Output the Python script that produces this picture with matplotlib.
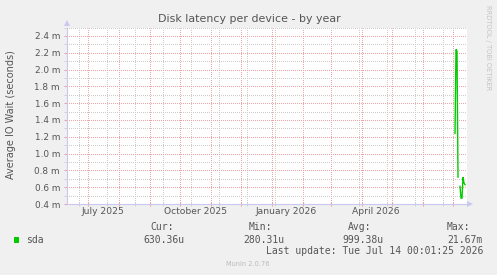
import matplotlib
matplotlib.use('Agg')
import matplotlib.pyplot as plt
import matplotlib.dates as mdates
import numpy as np
import pandas as pd
from matplotlib.patches import Polygon, Rectangle
from matplotlib.ticker import FuncFormatter, MultipleLocator, FixedLocator

# ---------------- data ----------------
dates = ['2026-07-03', '2026-07-04', '2026-07-05', '2026-07-06', '2026-07-07',
         '2026-07-08', '2026-07-09', '2026-07-10', '2026-07-11', '2026-07-12',
         '2026-07-13']
wait_s = [0.00124, 0.00224, 0.00222, 0.00072, np.nan,
          0.00061, 0.00047, 0.00047, 0.00072, 0.00065, 0.00063]

x_start = '2025-06-10'
x_end = '2026-07-15'
y_min, y_max = 0.0004, 0.0025

month_label_dates = ['2025-07-16', '2025-10-16', '2026-01-15', '2026-04-15']
month_labels = ['July 2025', 'October 2025', 'January 2026', 'April 2026']

series_name = 'sda'
stat_heads = ['Cur:', 'Min:', 'Avg:', 'Max:']
stat_vals = ['630.36u', '280.31u', '999.38u', '21.67m']
last_update = 'Last update: Tue Jul 14 00:01:25 2026'
title = 'Disk latency per device - by year'
ylabel = 'Average IO Wait (seconds)'

# ---------------- style ----------------
W, H = 497, 275
BG = '#F0F0F0'
TXT = '#555555'
AXC = '#C8C8F0'
MGRID = '#EEA4A4'
GRID = '#CDCDCD'
LINE = '#00CC00'
SANS = 'DejaVu Sans'
MONO = 'DejaVu Sans Mono'

def fx(x):
    return x / W

def fy(y):
    return 1 - y / H

fig = plt.figure(figsize=(W / 100, H / 100), dpi=100, facecolor=BG)
ax = fig.add_axes([fx(67), fy(204), (467 - 67) / W, (204 - 27.6) / H])
ax.set_facecolor('white')

x = pd.to_datetime(dates)
ax.plot(x, wait_s, color=LINE, lw=1.0, solid_joinstyle='miter', zorder=5)

ax.set_xlim(pd.Timestamp(x_start), pd.Timestamp(x_end))
ax.set_ylim(y_min, y_max)

# y ticks
ax.yaxis.set_major_locator(MultipleLocator(0.0002))
ax.yaxis.set_minor_locator(MultipleLocator(0.0001))
ax.yaxis.set_major_formatter(FuncFormatter(lambda v, p: f'{v*1000:.1f} m'))
ax.tick_params(axis='y', which='major', length=2, color=MGRID, labelsize=6.4,
               labelcolor=TXT, pad=3)
ax.tick_params(axis='y', which='minor', length=2, color=GRID)

# x ticks
ax.xaxis.set_major_locator(mdates.MonthLocator())
minor_pos = mdates.date2num(pd.date_range('2025-06-22', x_end, freq='28D'))
ax.xaxis.set_minor_locator(FixedLocator(minor_pos))
ax.xaxis.set_major_formatter(plt.NullFormatter())
ax.tick_params(axis='x', which='major', length=3, direction='inout', color=MGRID)
ax.tick_params(axis='x', which='minor', length=3, direction='inout', color=GRID)

ax.grid(which='minor', color=GRID, lw=0.72, ls=(0.5, (1, 1)), zorder=1)
ax.grid(which='major', color=MGRID, lw=0.72, ls=(0.5, (1, 1)), zorder=2)
ax.set_axisbelow(True)

for s in ['top', 'right']:
    ax.spines[s].set_visible(False)
for s in ['left', 'bottom']:
    ax.spines[s].set_color(AXC)
    ax.spines[s].set_linewidth(0.8)

for d, lab in zip(month_label_dates, month_labels):
    ax.text(pd.Timestamp(d), -0.045, lab, transform=ax.get_xaxis_transform(),
            ha='center', va='center', fontsize=6.6, color=TXT, family=SANS)

# arrows
fig.patches.append(Polygon([[fx(64), fy(26)], [fx(70), fy(26)], [fx(67), fy(20)]],
                           closed=True, transform=fig.transFigure,
                           facecolor=AXC, edgecolor='none'))
fig.patches.append(Polygon([[fx(467), fy(201)], [fx(467), fy(207)], [fx(473), fy(204)]],
                           closed=True, transform=fig.transFigure,
                           facecolor=AXC, edgecolor='none'))

# texts
fig.text(fx(249), fy(18.5), title, ha='center', va='center', fontsize=7.9,
         color=TXT, family=SANS)
fig.text(fx(11), fy(115), ylabel, ha='center', va='center', rotation=90,
         fontsize=7.0, color=TXT, family=SANS)
fig.text(fx(488), fy(5), 'RRDTOOL / TOBI OETIKER', ha='center', va='top',
         rotation=270, fontsize=4.8, color='#C4C4C4', family=SANS)

# legend
fig.patches.append(Rectangle((fx(14), fy(243)), 5 / W, 6 / H, transform=fig.transFigure,
                             facecolor=LINE, edgecolor='none'))
fig.text(fx(26.5), fy(240), series_name, ha='left', va='center', fontsize=7.0,
         color=TXT, family=MONO)
head_x = [150, 249, 348, 447]
val_x = [143, 243, 342, 447]
for hx, hd in zip(head_x, stat_heads):
    fig.text(fx(hx), fy(227.5), hd, ha='left', va='center', fontsize=7.0,
             color=TXT, family=MONO)
for vx, vv in zip(val_x, stat_vals):
    fig.text(fx(vx), fy(240), vv, ha='left', va='center', fontsize=7.0,
             color=TXT, family=MONO)
fig.text(fx(483), fy(251.5), last_update, ha='right', va='center', fontsize=7.0,
         color=TXT, family=MONO)
fig.text(fx(248), fy(264), 'Munin 2.0.76', ha='center', va='center', fontsize=4.8,
         color='#BBBBBB', family=SANS)

fig.savefig('out.png', dpi=100, facecolor=BG)
